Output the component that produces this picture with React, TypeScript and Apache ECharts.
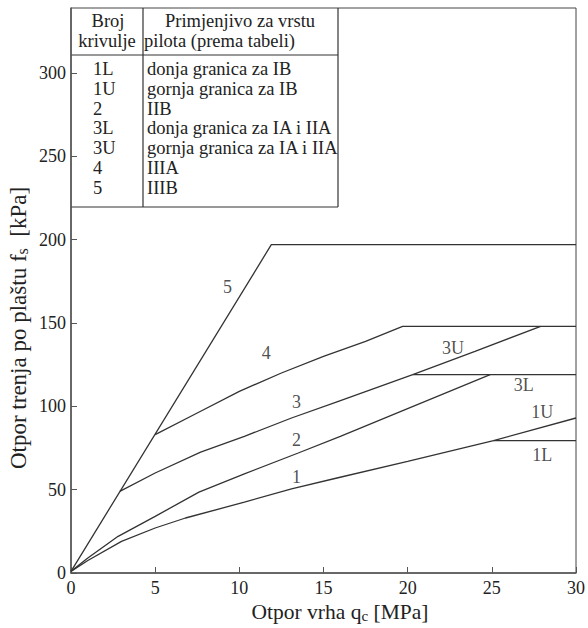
import React, { useEffect, useRef } from "react";
import * as echarts from "echarts";

// ---- data ----
const xTicks = { min: 0, max: 30, interval: 5 };
const yTicks = { min: 0, max: 339, interval: 50 };

const curve1U = [[0, 1], [1, 7.5], [3, 19], [5, 27], [6.8, 33], [10.3, 42.5], [13.1, 50.5], [15.8, 57], [20, 67], [25.1, 79.4], [30, 93]];
const curve1L = [[25.1, 79.4], [30, 79.4]];
const curve2 = [[0, 1], [1, 9], [2.8, 22], [5, 34], [7.6, 48.5], [10.3, 59.5], [13.5, 72], [16, 82], [19.6, 97], [24.9, 119]];
const curve3U = [[2.9, 49], [5, 60], [7.7, 72.5], [10.3, 82], [13.1, 93], [15.8, 102.7], [20.3, 119], [24, 133], [27.9, 148]];
const curve3L = [[20.3, 119], [30, 119]];
const curve4 = [[5, 83], [7.5, 96], [10, 109], [12.5, 120], [15, 130], [17.5, 139], [19.7, 148], [30, 148]];
const curve5 = [[0, 1], [11.9, 197], [30, 197]];

const curveLabelNames = ["5", "4", "3", "2", "1", "3U", "3L", "1U", "1L"];
const curveLabelPositions = [[9.3, 171.6], [11.6, 132], [13.4, 102.6], [13.4, 79.8], [13.4, 57.6], [22.7, 135], [26.9, 112.8], [28.0, 96.6], [28.0, 70.8]];

const tableHeaderCol1 = ["Broj", "krivulje"];
const tableHeaderCol2 = ["Primjenjivo za vrstu", "pilota (prema tabeli)"];
const tableCurves = ["1L", "1U", "2", "3L", "3U", "4", "5"];
const tableDescriptions = [
  "donja granica za IB",
  "gornja granica za IB",
  "IIB",
  "donja granica za IA i IIA",
  "gornja granica za IA i IIA",
  "IIIA",
  "IIIB",
];

const FONT = "Liberation Serif";
const INK = "#222";
const LINE = "#333";

export default function App() {
  const ref = useRef<HTMLDivElement>(null);

  useEffect(() => {
    document.body.style.margin = "0";
    const chart = echarts.init(ref.current!, null, { renderer: "svg" });

    const lineSeries = (name: string, data: number[][]) => ({
      name,
      type: "line",
      data,
      symbol: "none",
      showSymbol: false,
      smooth: false,
      lineStyle: { color: LINE, width: 1.3 },
      silent: true,
    });

    const graphics: any[] = [];
    const tL = 71, tR = 338, tT = 8, tB = 207, tHead = 55, tDiv = 143;
    const ln = (x1: number, y1: number, x2: number, y2: number) => ({
      type: "line",
      shape: { x1, y1, x2, y2 },
      style: { stroke: LINE, lineWidth: 1.2 },
    });
    graphics.push(ln(tL, tHead, tR, tHead));
    graphics.push(ln(tL, tB, tR, tB));
    graphics.push(ln(tDiv, tT, tDiv, tB));
    graphics.push(ln(tR, tT, tR, tB));

    const txt = (text: string, x: number, y: number, align: string, size = 18.5) => ({
      type: "text",
      x,
      y,
      style: {
        text,
        fontFamily: FONT,
        fontSize: size,
        fill: INK,
        align,
        verticalAlign: "middle",
      },
    });
    graphics.push(txt(tableHeaderCol1[0], 108, 21, "center"));
    graphics.push(txt(tableHeaderCol1[1], 107, 41, "center"));
    graphics.push(txt(tableHeaderCol2[0], 240, 21, "center"));
    graphics.push(txt(tableHeaderCol2[1], 144, 41, "left"));
    tableCurves.forEach((c, i) => {
      const y = 69 + i * 19.8;
      graphics.push(txt(c, 93, y, "left"));
      graphics.push(txt(tableDescriptions[i], 147, y, "left"));
    });

    // axis titles
    graphics.push({
      type: "text",
      x: 340,
      y: 612,
      style: {
        text: "{a|Otpor vrha q}{s|c}{a| [MPa]}",
        align: "center",
        verticalAlign: "middle",
        rich: {
          a: { fontFamily: FONT, fontSize: 21.5, fill: INK },
          s: { fontFamily: FONT, fontSize: 15, fill: INK, padding: [8, 0, 0, 0] },
        },
      },
    });
    graphics.push({
      type: "text",
      x: 18,
      y: 328,
      rotation: Math.PI / 2,
      style: {
        text: "{a|Otpor trenja po plaštu f}{s|s}{a|  [kPa]}",
        align: "center",
        verticalAlign: "middle",
        rich: {
          a: { fontFamily: FONT, fontSize: 23, fill: INK },
          s: { fontFamily: FONT, fontSize: 16, fill: INK, padding: [8, 0, 0, 0] },
        },
      },
    });

    chart.setOption({
      animation: false,
      backgroundColor: "#fff",
      textStyle: { fontFamily: FONT },
      grid: { left: 71, right: 8, top: 8, bottom: 55, show: true, borderColor: "#444", borderWidth: 1 },
      xAxis: {
        type: "value",
        min: xTicks.min,
        max: xTicks.max,
        interval: xTicks.interval,
        axisLine: { show: true, onZero: false, lineStyle: { color: "#555", width: 1.5 } },
        axisTick: { show: true, inside: true, length: 6, lineStyle: { color: "#555" } },
        axisLabel: { fontFamily: FONT, fontSize: 18, color: INK, margin: 6 },
        splitLine: { show: false },
      },
      yAxis: {
        type: "value",
        min: yTicks.min,
        max: yTicks.max,
        interval: yTicks.interval,
        axisLine: { show: true, onZero: false, lineStyle: { color: "#555", width: 1.5 } },
        axisTick: { show: true, inside: true, length: 6, lineStyle: { color: "#555" } },
        axisLabel: { fontFamily: FONT, fontSize: 18, color: INK, margin: 5, showMaxLabel: false },
        splitLine: { show: false },
      },
      series: [
        lineSeries("1U", curve1U),
        lineSeries("1L", curve1L),
        lineSeries("2", curve2),
        lineSeries("3U", curve3U),
        lineSeries("3L", curve3L),
        lineSeries("4", curve4),
        lineSeries("5", curve5),
        {
          type: "scatter",
          symbolSize: 1,
          itemStyle: { color: "rgba(0,0,0,0)" },
          silent: true,
          data: curveLabelNames.map((n, i) => ({ name: n, value: curveLabelPositions[i] })),
          label: {
            show: true,
            position: "inside",
            formatter: "{b}",
            fontFamily: FONT,
            fontSize: 18,
            color: INK,
          },
        },
      ],
      graphic: graphics,
    });

    return () => chart.dispose();
  }, []);

  return <div ref={ref} style={{ width: 588, height: 628 }} />;
}
